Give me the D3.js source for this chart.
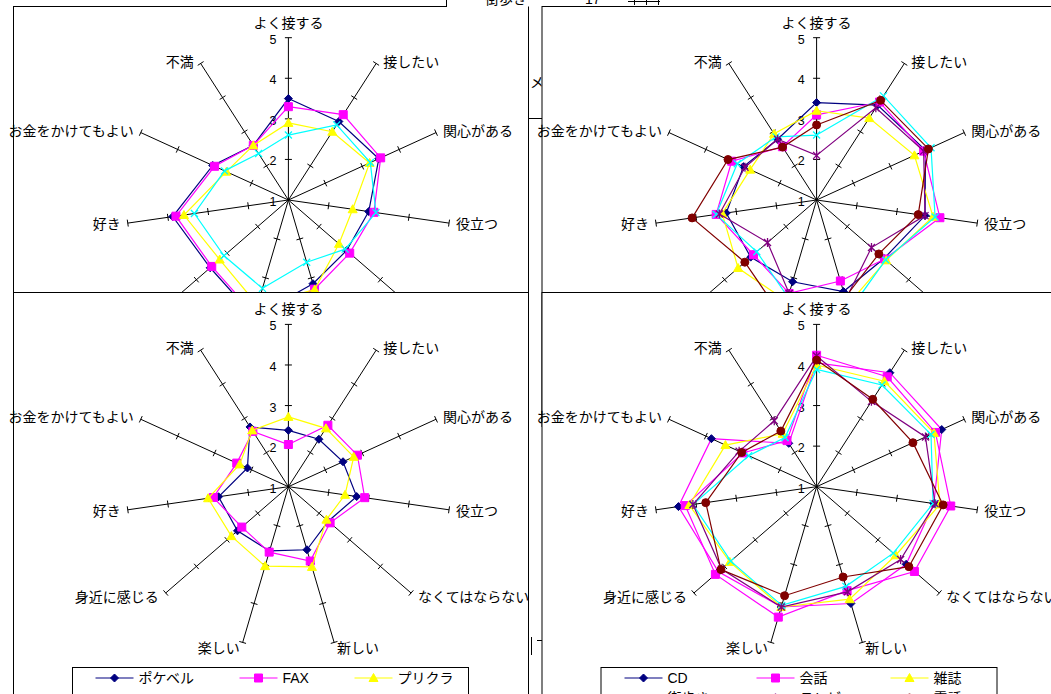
<!DOCTYPE html>
<html>
<head>
<meta charset="utf-8">
<script src="https://cdn.jsdelivr.net/npm/d3@7"></script>
<style>
  html, body { margin: 0; padding: 0; background: #fff; overflow: hidden; }
  svg { display: block; }
  text { font-family: "Liberation Sans", "Noto Sans CJK JP", sans-serif; fill: #000; }
</style>
</head>
<body>
<svg id="sheet" width="1051" height="694"></svg>
<script>
// ---- data ---------------------------------------------------------------
const axisLabels = ["よく接する", "接したい", "関心がある", "役立つ", "なくてはならない",
  "新しい", "楽しい", "身近に感じる", "好き", "お金をかけてもよい", "不満"];
const scaleTicks = [1, 2, 3, 4, 5];

// upper-left chart
const ulNames = ["ポケベル", "FAX", "プリクラ", "携帯電話"];
const ulPokebell = [3.5, 3.3, 3.45, 3.0, 2.9, 3.15, 4.0, 3.55, 3.88, 3.05, 2.6];
const ulFax      = [3.3, 3.5, 3.5, 3.13, 3.0, 3.29, 3.95, 3.5, 3.8, 3.0, 2.6];
const ulPurikura = [2.9, 3.0, 3.2, 2.6, 2.65, 3.3, 3.7, 3.24, 3.6, 2.68, 2.6];
const ulKeitai   = [2.6, 3.2, 3.22, 3.18, 2.85, 2.6, 3.27, 3.1, 3.34, 2.73, 2.36];

// upper-right chart
const urNames = ["CD", "会話", "雑誌", "街歩き", "テレビ", "電話"];
const urCd      = [3.4, 3.78, 3.95, 3.7, 3.2, 3.35, 3.1, 3.15, 3.25, 2.98, 2.78];
const urKaiwa   = [3.1, 3.87, 3.9, 4.07, 3.22, 3.08, 3.4, 3.06, 3.5, 3.3, 2.56];
const urZasshi  = [3.2, 3.4, 3.65, 3.9, 3.27, 3.7, 3.6, 3.56, 3.35, 2.8, 2.94];
const urMachi   = [2.6, 4.05, 4.1, 3.95, 3.25, 3.85, 3.5, 2.95, 3.5, 3.15, 2.85];
const urTerebi  = [2.1, 3.7, 3.9, 3.7, 2.79, 3.55, 3.4, 2.6, 3.42, 2.94, 2.78];
const urDenwa   = [2.85, 3.92, 4.03, 3.53, 3.03, 3.5, 4.0, 3.34, 4.1, 3.4, 2.55];

// lower-left chart
const llNames = ["ポケベル", "FAX", "プリクラ"];
const llPokebell = [2.39, 2.39, 2.48, 2.7, 2.3, 2.62, 2.65, 2.66, 2.74, 2.11, 2.75];
const llFax      = [2.04, 2.8, 2.87, 2.9, 2.36, 2.91, 2.68, 2.52, 2.87, 2.4, 2.62];
const llPurikura = [2.72, 2.71, 2.77, 2.41, 2.24, 3.06, 3.04, 2.86, 3.0, 2.32, 2.65];

// lower-right chart
const lrNames = ["CD", "会話", "雑誌", "街歩き", "テレビ", "電話"];
const lrCd      = [4.05, 4.34, 4.39, 3.92, 3.92, 4.0, 4.09, 4.2, 4.44, 3.85, 2.27];
const lrKaiwa   = [4.24, 4.22, 4.22, 4.34, 4.19, 3.67, 4.35, 4.3, 4.27, 3.0, 2.35];
const lrZasshi  = [4.0, 4.09, 4.18, 4.07, 3.58, 3.89, 4.09, 3.83, 4.17, 3.47, 2.55];
const lrMachi   = [3.89, 3.98, 4.1, 3.9, 3.5, 3.56, 4.05, 3.8, 4.08, 2.84, 2.44];
const lrTerebi  = [4.22, 3.5, 3.95, 3.95, 3.74, 3.7, 4.09, 4.1, 4.08, 3.1, 2.93];
const lrDenwa   = [4.12, 3.56, 3.61, 4.15, 4.01, 3.32, 3.8, 4.12, 3.76, 3.03, 2.63];

// ---- styles -------------------------------------------------------------
const seriesStyles = [
  { color: "#000080", marker: "diamond" },
  { color: "#FF00FF", marker: "square" },
  { color: "#FFFF00", marker: "triangle" },
  { color: "#00FFFF", marker: "x" },
  { color: "#800080", marker: "asterisk" },
  { color: "#800000", marker: "circle" }
];

function markerPath(type) {
  switch (type) {
    case "diamond":  return "M0,-4L4,0L0,4L-4,0Z";
    case "square":   return "M-4,-4H4V4H-4Z";
    case "triangle": return "M0,-4.5L4.5,3.5H-4.5Z";
    case "circle":   return d3.symbol(d3.symbolCircle, 50)();
    case "x":        return "M-3.5,-3.5L3.5,3.5M-3.5,3.5L3.5,-3.5";
    case "asterisk": return "M-3.5,-3.5L3.5,3.5M-3.5,3.5L3.5,-3.5M0,-4.5V4.5";
  }
}
function drawMarker(sel, style) {
  const stroked = style.marker === "x" || style.marker === "asterisk";
  sel.append("path")
    .attr("d", markerPath(style.marker))
    .attr("fill", stroked ? "none" : style.color)
    .attr("stroke", style.color)
    .attr("stroke-width", stroked ? 1.3 : 1);
}

const svg = d3.select("#sheet");

// ---- pieces of the sheet lying behind the charts ------------------------
const back = svg.append("g");
back.append("text").attr("x", 585).attr("y", 4).attr("font-size", 14).text("17");
back.append("line").attr("x1", 628).attr("x2", 660).attr("y1", 1.5).attr("y2", 1.5)
  .attr("stroke", "#000");
[634, 646, 658].forEach(x => back.append("line").attr("x1", x + 0.5).attr("x2", x + 0.5)
  .attr("y1", -2).attr("y2", 5).attr("stroke", "#000"));
back.append("line").attr("x1", 529).attr("x2", 542).attr("y1", 118.5).attr("y2", 118.5)
  .attr("stroke", "#000");
back.append("line").attr("x1", 531.5).attr("x2", 531.5).attr("y1", 637).attr("y2", 655)
  .attr("stroke", "#000");
back.append("line").attr("x1", 537).attr("x2", 542).attr("y1", 640.5).attr("y2", 640.5)
  .attr("stroke", "#000");
back.append("clipPath").attr("id", "gapClip").append("rect")
  .attr("x", 530).attr("y", 60).attr("width", 11.5).attr("height", 50);
back.append("text").attr("x", 530).attr("y", 87).attr("font-size", 14)
  .attr("clip-path", "url(#gapClip)").text("メ");

// ---- radar panel --------------------------------------------------------
const R = 162.3;
const rScale = d3.scaleLinear().domain([1, 5]).range([0, R]);
const aScale = d3.scaleLinear().domain([0, axisLabels.length]).range([0, 2 * Math.PI]);

function radarPanel(opt) {
  const g = svg.append("g");
  // chart area frame
  g.append("rect")
    .attr("x", opt.x + 0.5).attr("y", opt.y + 0.5)
    .attr("width", 515).attr("height", opt.h)
    .attr("fill", "#fff").attr("stroke", "#000").attr("stroke-width", 1);

  const c = g.append("g").attr("transform", `translate(${opt.cx},${opt.cy})`);
  const pt = (i, v) => {
    const a = aScale(i), r = rScale(v);
    return [r * Math.sin(a), -r * Math.cos(a)];
  };

  // spokes with cross ticks
  axisLabels.forEach((lab, i) => {
    const a = aScale(i);
    const [ex, ey] = pt(i, 5);
    c.append("line").attr("x1", 0).attr("y1", 0).attr("x2", ex).attr("y2", ey)
      .attr("stroke", "#000").attr("stroke-width", 1);
    const nx = Math.cos(a), ny = Math.sin(a);
    scaleTicks.slice(1).forEach(t => {
      const [tx, ty] = pt(i, t);
      c.append("line")
        .attr("x1", tx - nx * 3.5).attr("y1", ty - ny * 3.5)
        .attr("x2", tx + nx * 3.5).attr("y2", ty + ny * 3.5)
        .attr("stroke", "#000").attr("stroke-width", 1);
    });
    // category label
    const s = Math.sin(a), co = Math.cos(a);
    let anchor = "middle", dx = 0, dy;
    if (i === 0) { dy = -15; }
    else {
      anchor = s > 0 ? "start" : "end";
      dx = (Math.abs(s) > 0.5 ? 7 : 3) * Math.sign(s);
      dy = co > 0 ? -1.8 : -6.3 * co;
    }
    c.append("text")
      .attr("x", ex + dx).attr("y", ey + dy)
      .attr("text-anchor", anchor)
      .attr("dominant-baseline", "central")
      .attr("font-size", 14)
      .text(lab);
  });

  // value scale labels
  scaleTicks.forEach(t => {
    c.append("text")
      .attr("x", -12).attr("y", -rScale(t) + 2)
      .attr("text-anchor", "end")
      .attr("dominant-baseline", "central")
      .attr("font-size", 12.5)
      .text(t);
  });

  // series
  const line = d3.lineRadial()
    .angle((d, i) => aScale(i))
    .radius(d => rScale(d))
    .curve(d3.curveLinearClosed);
  opt.series.forEach((vals, k) => {
    const st = seriesStyles[k];
    const lineColor = (opt.lineColors && opt.lineColors[k]) || st.color;
    c.append("path").attr("d", line(vals))
      .attr("fill", "none").attr("stroke", lineColor).attr("stroke-width", 1.2);
    vals.forEach((v, i) => {
      const [px, py] = pt(i, v);
      drawMarker(c.append("g").attr("transform", `translate(${px},${py})`), st);
    });
  });

  // legend
  if (opt.legend) {
    const L = opt.legend;
    const lg = g.append("g").attr("transform", `translate(${L.x},${L.y})`);
    lg.append("rect").attr("x", 0.5).attr("y", 0.5).attr("width", 396).attr("height", 60)
      .attr("fill", "#fff").attr("stroke", "#000");
    L.names.forEach((name, k) => {
      const col = k % 3, row = Math.floor(k / 3);
      const x0 = L.cols[col], y0 = 11 + row * 20;
      const st = seriesStyles[k];
      lg.append("line").attr("x1", x0).attr("x2", x0 + 38).attr("y1", y0).attr("y2", y0)
        .attr("stroke", st.color).attr("stroke-width", 1.2);
      drawMarker(lg.append("g").attr("transform", `translate(${x0 + 19},${y0})`), st);
      lg.append("text").attr("x", x0 + 43).attr("y", y0)
        .attr("dominant-baseline", "central").attr("font-size", 14).text(name);
    });
  }
  return g;
}

// upper-left
radarPanel({
  x: 13, y: 6, h: 420, cx: 288.4, cy: 200,
  series: [ulPokebell, ulFax, ulPurikura, ulKeitai]
});
// sheet cell overlapping the top edge of the upper-left chart
(function () {
  const g = svg.append("g");
  g.append("rect").attr("x", 447).attr("y", -5).attr("width", 81.5).attr("height", 12).attr("fill", "#fff");
  g.append("line").attr("x1", 446.5).attr("x2", 446.5).attr("y1", -5).attr("y2", 7).attr("stroke", "#000");
  g.append("text").attr("x", 485).attr("y", 4).attr("font-size", 14).text("街歩き");
})();

// upper-right
radarPanel({
  x: 541.5, y: 6, h: 420, cx: 816.6, cy: 200,
  series: [urCd, urKaiwa, urZasshi, urMachi, urTerebi, urDenwa]
});

// lower-left
radarPanel({
  x: 13, y: 292, h: 420, cx: 288.4, cy: 486.7,
  series: [llPokebell, llFax, llPurikura],
  legend: { x: 72, y: 667, names: llNames, cols: [23.5, 167.5, 282.5] }
});

// lower-right (CD outline drawn in pink here)
radarPanel({
  x: 541.5, y: 292, h: 420, cx: 816.6, cy: 486.7,
  series: [lrCd, lrKaiwa, lrZasshi, lrMachi, lrTerebi, lrDenwa],
  lineColors: ["#FF00FF"],
  legend: { x: 600.5, y: 667, names: lrNames, cols: [24, 156, 290] }
});
</script>
</body>
</html>
